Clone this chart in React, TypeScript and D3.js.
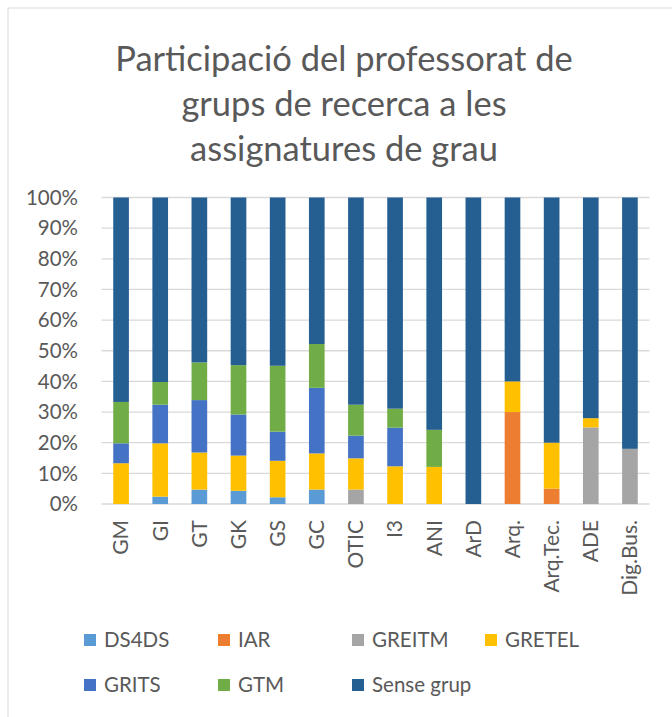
import React from 'react'
import * as d3 from 'd3'

const categories = ['GM', 'GI', 'GT', 'GK', 'GS', 'GC', 'OTIC', 'I3', 'ANI', 'ArD', 'Arq.', 'Arq.Tec.', 'ADE', 'Dig.Bus.']

const seriesNames = ['DS4DS', 'IAR', 'GREITM', 'GRETEL', 'GRITS', 'GTM', 'Sense grup']
const seriesColors = ['#5B9BD5', '#ED7D31', '#A5A5A5', '#FFC000', '#4472C4', '#70AD47', '#255E91']

// percent values per series, in category order
const ds4ds = [0, 2.4, 4.7, 4.3, 2.2, 4.7, 0, 0, 0, 0, 0, 0, 0, 0]
const iar = [0, 0, 0, 0, 0, 0, 0, 0, 0, 0, 30, 5, 0, 0]
const greitm = [0, 0, 0, 0, 0, 0, 4.7, 0, 0, 0, 0, 0, 25, 18]
const gretel = [13.3, 17.4, 12.1, 11.5, 11.9, 11.8, 10.2, 12.3, 12.1, 0, 10, 15, 3, 0]
const grits = [6.5, 12.6, 17.1, 13.4, 9.5, 21.4, 7.4, 12.6, 0, 0, 0, 0, 0, 0]
const gtm = [13.5, 7.4, 12.3, 16.1, 21.5, 14.3, 10.1, 6.2, 12.1, 0, 0, 0, 0, 0]
const senseGrup = [66.7, 60.2, 53.8, 54.7, 54.9, 47.8, 67.6, 68.9, 75.8, 100, 60, 80, 72, 82]

const yTicks = [0, 0.1, 0.2, 0.3, 0.4, 0.5, 0.6, 0.7, 0.8, 0.9, 1]
const titleLines = ['Participació del professorat de', 'grups de recerca a les', 'assignatures de grau']

const W = 672
const H = 717
const FONT = 'Lato, "Open Sans", sans-serif'
const TEXT = '#595959'

export default function App() {
  const allSeries = [ds4ds, iar, greitm, gretel, grits, gtm, senseGrup]
  const rows = categories.map((c, i) => {
    const r: Record<string, any> = { cat: c }
    seriesNames.forEach((s, j) => { r[s] = allSeries[j][i] })
    return r
  })
  const stacked = d3.stack<any>().keys(seriesNames).offset(d3.stackOffsetExpand)(rows)

  const x = d3.scaleBand().domain(categories).range([101.5, 649.5]).paddingInner(0.6).paddingOuter(0.3)
  const y = d3.scaleLinear().domain([0, 1]).range([504, 197.5])
  const fmt = d3.format('.0%')

  const legendCols = [84, 218, 352, 485]
  const legendRows = [640, 685]

  return (
    <svg width={W} height={H} style={{ position: 'absolute', left: 0, top: 0 }} fontFamily={FONT}>
      <rect x={8} y={8} width={W + 10} height={H + 10} fill="#fff" stroke="#d9d9d9" strokeWidth={1} />
      {titleLines.map((t, i) => (
        <text key={t} x={344} y={71 + i * 45} textAnchor="middle" fontSize={34.5} fill={TEXT}>{t}</text>
      ))}
      {yTicks.map(t => (
        <g key={t}>
          <line x1={101.5} x2={649.5} y1={y(t)} y2={y(t)} stroke="#d9d9d9" strokeWidth={1.3} />
          <text x={78} y={y(t)} dy="0.35em" textAnchor="end" fontSize={20.5} fill={TEXT}>{fmt(t)}</text>
        </g>
      ))}
      {stacked.map((s, j) => (
        <g key={s.key} fill={seriesColors[j]}>
          {s.map((d, i) => d[1] - d[0] > 0 ? (
            <rect key={i} x={x(categories[i])} width={x.bandwidth()} y={y(d[1])} height={y(d[0]) - y(d[1])} />
          ) : null)}
        </g>
      ))}
      {categories.map(c => {
        const cx = (x(c) as number) + x.bandwidth() / 2
        return (
          <text key={c} transform={`translate(${cx},520) rotate(-90)`} textAnchor="end" dy="0.35em" fontSize={21} fill={TEXT}>{c}</text>
        )
      })}
      {seriesNames.map((s, j) => {
        const lx = legendCols[j % 4]
        const ly = legendRows[Math.floor(j / 4)]
        return (
          <g key={s}>
            <rect x={lx} y={ly - 6} width={12} height={12} fill={seriesColors[j]} />
            <text x={lx + 20} y={ly} dy="0.35em" fontSize={20.5} fill={TEXT}>{s}</text>
          </g>
        )
      })}
    </svg>
  )
}
